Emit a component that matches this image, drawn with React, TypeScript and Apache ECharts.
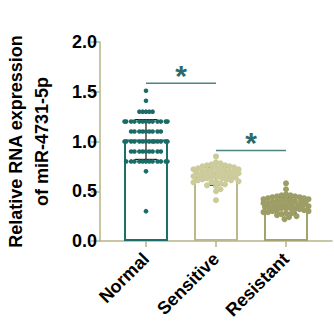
import React, { useEffect, useRef } from "react";
import * as echarts from "echarts";

const categories = ["Normal", "Sensitive", "Resistant"];
const normalValues = [
  1.51, 1.41,
  1.3, 1.3, 1.3, 1.3, 1.3,
  1.2, 1.2, 1.2, 1.2, 1.2, 1.2, 1.2, 1.2, 1.2, 1.2, 1.2, 1.2, 1.2,
  1.1, 1.1, 1.1, 1.1, 1.1, 1.1, 1.1, 1.1, 1.1,
  1.0, 1.0, 1.0, 1.0, 1.0, 1.0, 1.0, 1.0, 1.0, 1.0, 1.0, 1.0, 1.0, 1.0,
  0.9, 0.9, 0.9, 0.9, 0.9, 0.9, 0.9, 0.9, 0.9,
  0.8, 0.8, 0.8, 0.8, 0.8, 0.8, 0.8, 0.8, 0.8, 0.8, 0.8, 0.8,
  0.7, 0.3,
];
const sensitiveValues = [
  0.85, 0.79, 0.78, 0.77, 0.76, 0.76, 0.75, 0.75, 0.74, 0.74, 0.73, 0.73,
  0.72, 0.72, 0.72, 0.71, 0.71, 0.7, 0.7, 0.7, 0.69, 0.69, 0.68, 0.68, 0.68,
  0.67, 0.67, 0.66, 0.66, 0.66, 0.65, 0.65, 0.64, 0.64, 0.63, 0.63, 0.62,
  0.62, 0.61, 0.61, 0.6, 0.6, 0.59, 0.59, 0.58, 0.57, 0.56, 0.55, 0.52, 0.5,
  0.41,
];
const resistantValues = [
  0.58, 0.52, 0.47, 0.46, 0.46, 0.45, 0.45, 0.44, 0.44, 0.43, 0.43, 0.42,
  0.42, 0.42, 0.41, 0.41, 0.4, 0.4, 0.4, 0.39, 0.39, 0.38, 0.38, 0.38, 0.37,
  0.37, 0.36, 0.36, 0.36, 0.35, 0.35, 0.34, 0.34, 0.33, 0.33, 0.33, 0.32,
  0.32, 0.31, 0.31, 0.3, 0.3, 0.29, 0.29, 0.28, 0.28, 0.27, 0.26, 0.25,
  0.24, 0.22,
];
const barMeans = [1.02, 0.65, 0.36];
const barSD = [0.2, 0.09, 0.08];
// [fromIndex, toIndex, yValue]
const sigPairs = [
  [0, 1, 1.586],
  [1, 2, 0.91],
];
const yTickValues = [0, 0.5, 1.0, 1.5, 2.0];

const groupValues = [normalValues, sensitiveValues, resistantValues];
const dotColors = ["#1b6b67", "#cbcb9c", "#9d9d66"];
const barBorder = ["#1f6e6a", "#b9b98b", "#a3a36e"];
const axisColor = "#b5b589";
const FONT = "Arial, 'Liberation Sans', sans-serif";

const GRID = { left: 100, top: 42, right: 2, bottom: 82 };
const X_MIN = -0.657;
const X_MAX = 2.657;
const PX_PER_X = (334 - GRID.left - GRID.right) / (X_MAX - X_MIN);
const PX_PER_Y = (323 - GRID.top - GRID.bottom) / 2;

function swarm(values: number[], d: number, step: number, maxOff: number) {
  const placed: { x: number; y: number }[] = [];
  const order = values.map((v, i) => i).sort((a, b) => values[b] - values[a]);
  const res: number[] = new Array(values.length).fill(0);
  for (const idx of order) {
    const y = values[idx] * PX_PER_Y;
    const cands: number[] = [0];
    for (let k = 1; k * step <= maxOff; k++) {
      cands.push(k * step, -k * step);
    }
    let chosen: number | null = null;
    let best = 0;
    let bestScore = -1;
    for (const c of cands) {
      let minD = Infinity;
      for (const p of placed) {
        const dd = Math.hypot(p.x - c, p.y - y);
        if (dd < minD) minD = dd;
      }
      if (minD >= d) {
        chosen = c;
        break;
      }
      if (minD > bestScore) {
        bestScore = minD;
        best = c;
      }
    }
    const x = chosen === null ? best : chosen;
    placed.push({ x, y });
    res[idx] = x;
  }
  return res;
}

const swarmParams = [
  { d: 3.3, step: 1.65, max: 23, size: 4.6 },
  { d: 4.6, step: 1.5, max: 23, size: 6 },
  { d: 4.6, step: 1.5, max: 23, size: 6 },
];

export default function App() {
  const ref = useRef<HTMLDivElement>(null);
  useEffect(() => {
    document.body.style.margin = "0";
    if (!ref.current) return;
    const chart = echarts.init(ref.current, undefined, { renderer: "svg" });

    const scatterSeries = groupValues.map((vals, gi) => {
      const p = swarmParams[gi];
      const offs = swarm(vals, p.d, p.step, p.max);
      return {
        type: "scatter",
        name: categories[gi],
        symbolSize: p.size,
        z: 5,
        itemStyle: { color: dotColors[gi], opacity: 1 },
        data: vals.map((v, i) => [gi + offs[i] / PX_PER_X, v]),
      };
    });

    const option: any = {
      animation: false,
      grid: { ...GRID, containLabel: false, outerBoundsMode: "none" },
      xAxis: {
        type: "value",
        min: X_MIN,
        max: X_MAX,
        splitLine: { show: false },
        axisLine: { show: true, onZero: false, lineStyle: { color: axisColor, width: 1.5 } },
        axisTick: {
          show: true,
          length: 6,
          customValues: [0, 1, 2],
          lineStyle: { color: axisColor, width: 1.5 },
        },
        axisLabel: {
          customValues: [0, 1, 2],
          formatter: (v: number) => categories[Math.round(v)] ?? "",
          rotate: 45,
          margin: 15,
          color: "#000",
          fontWeight: "bold",
          fontSize: 18,
          fontFamily: FONT,
        },
      },
      yAxis: {
        type: "value",
        min: 0,
        max: 2,
        interval: 0.5,
        splitLine: { show: false },
        axisLine: { show: true, onZero: false, lineStyle: { color: axisColor, width: 1.5 } },
        axisTick: { show: true, length: 9, lineStyle: { color: axisColor, width: 1.5 } },
        axisLabel: {
          margin: 3,
          color: "#000",
          fontWeight: "bold",
          fontSize: 18,
          fontFamily: FONT,
          formatter: (v: number) => (yTickValues.includes(v) ? v.toFixed(1) : ""),
        },
        name: "Relative RNA expression\nof miR-4731-5p",
        nameLocation: "middle",
        nameGap: 45,
        nameTextStyle: {
          color: "#000",
          fontWeight: "bold",
          fontSize: 18,
          fontFamily: FONT,
          lineHeight: 26,
        },
      },
      series: [
        {
          type: "bar",
          barWidth: 44,
          z: 2,
          data: barMeans.map((m, i) => ({
            value: [i, m],
            itemStyle: { color: "#fff", borderColor: barBorder[i], borderWidth: 2 },
          })),
        },
        {
          type: "custom",
          z: 4,
          data: barMeans.map((m, i) => [i, m, barSD[i]]),
          renderItem: (params: any, api: any) => {
            const x = api.value(0);
            const m = api.value(1);
            const s = api.value(2);
            const top = api.coord([x, m + s]);
            const bot = api.coord([x, m - s]);
            const hw = 11;
            const style = { stroke: "#1a1a1a", lineWidth: 1.2 };
            return {
              type: "group",
              children: [
                { type: "line", shape: { x1: top[0], y1: top[1], x2: bot[0], y2: bot[1] }, style },
                { type: "line", shape: { x1: top[0] - hw, y1: top[1], x2: top[0] + hw, y2: top[1] }, style },
                { type: "line", shape: { x1: bot[0] - hw, y1: bot[1], x2: bot[0] + hw, y2: bot[1] }, style },
              ],
            };
          },
        },
        ...scatterSeries,
        {
          type: "custom",
          z: 6,
          data: sigPairs,
          renderItem: (params: any, api: any) => {
            const a = api.coord([api.value(0), api.value(2)]);
            const b = api.coord([api.value(1), api.value(2)]);
            return {
              type: "group",
              children: [
                {
                  type: "line",
                  shape: { x1: a[0], y1: a[1], x2: b[0], y2: b[1] },
                  style: { stroke: "#4d8383", lineWidth: 1.6 },
                },
                {
                  type: "text",
                  x: (a[0] + b[0]) / 2,
                  y: a[1] - 8,
                  style: {
                    text: "*",
                    fill: "#2a6a6a",
                    font: `bold 30px ${FONT}`,
                    align: "center",
                    verticalAlign: "middle",
                  },
                },
              ],
            };
          },
        },
      ],
    };
    chart.setOption(option);
    return () => chart.dispose();
  }, []);
  return <div ref={ref} style={{ width: 334, height: 323 }} />;
}
